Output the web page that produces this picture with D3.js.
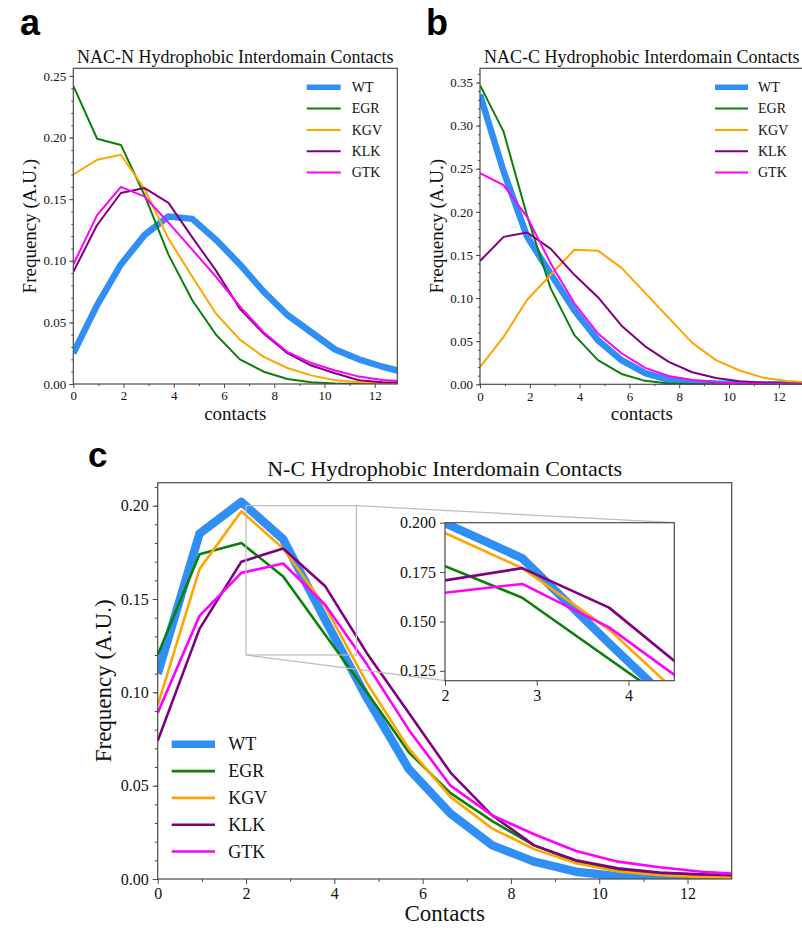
<!DOCTYPE html>
<html>
<head>
<meta charset="utf-8">
<script src="https://cdn.jsdelivr.net/npm/d3@7"></script>
<style>
body { margin: 0; background: #fff; }
svg text { font-family: "Liberation Serif", "Times New Roman", serif; fill: #111; }
svg text.letter { font-family: "Liberation Sans", Arial, sans-serif; font-weight: bold; fill: #000; }
</style>
</head>
<body>
<svg id="chart"></svg>
<script>
// Page size
let width = 802
let height = 928

// Contact bins (x positions of every curve)
let contacts = [0, 0.947, 1.895, 2.842, 3.789, 4.737, 5.684, 6.632, 7.579, 8.526, 9.474, 10.421, 11.368, 12.316, 13.263]

let variants = ['WT', 'EGR', 'KGV', 'KLK', 'GTK']
let colors = ['#2f8ff5', '#0a800a', '#ffa500', '#800080', '#ff00ff']

// a) NAC-N hydrophobic interdomain contacts
let nacN_WT  = [0.025, 0.064, 0.097, 0.121, 0.136, 0.134, 0.117, 0.097, 0.075, 0.056, 0.042, 0.028, 0.020, 0.014, 0.009]
let nacN_EGR = [0.242, 0.199, 0.194, 0.153, 0.105, 0.068, 0.040, 0.020, 0.010, 0.004, 0.0015, 0.0005, 0.0002, 0.0001, 0]
let nacN_KGV = [0.170, 0.182, 0.186, 0.158, 0.118, 0.087, 0.057, 0.036, 0.022, 0.013, 0.007, 0.003, 0.0015, 0.0007, 0.0003]
let nacN_KLK = [0.091, 0.129, 0.155, 0.159, 0.147, 0.119, 0.092, 0.061, 0.041, 0.025, 0.015, 0.0087, 0.003, 0.0015, 0.001]
let nacN_GTK = [0.097, 0.137, 0.160, 0.152, 0.131, 0.109, 0.087, 0.063, 0.042, 0.026, 0.017, 0.011, 0.006, 0.0032, 0.002]

// b) NAC-C hydrophobic interdomain contacts
let nacC_WT  = [0.336, 0.247, 0.171, 0.128, 0.086, 0.051, 0.028, 0.013, 0.005, 0.002, 0.0008, 0.0003, 0.0001, 0, 0]
let nacC_EGR = [0.347, 0.293, 0.195, 0.111, 0.057, 0.028, 0.012, 0.004, 0.001, 0.0003, 0.0001, 0, 0, 0, 0]
let nacC_KGV = [0.020, 0.055, 0.098, 0.127, 0.156, 0.155, 0.135, 0.106, 0.077, 0.048, 0.028, 0.016, 0.0077, 0.0038, 0.002]
let nacC_KLK = [0.143, 0.171, 0.176, 0.157, 0.127, 0.101, 0.068, 0.044, 0.026, 0.014, 0.0073, 0.0035, 0.0017, 0.001, 0.0005]
let nacC_GTK = [0.245, 0.231, 0.194, 0.140, 0.094, 0.059, 0.036, 0.019, 0.0096, 0.005, 0.002, 0.001, 0.0005, 0.0002, 0.0001]

// c) N-C hydrophobic interdomain contacts
let nc_WT  = [0.110, 0.185, 0.202, 0.182, 0.139, 0.097, 0.059, 0.035, 0.018, 0.0093, 0.0039, 0.0015, 0.0005, 0.0002, 0.0001]
let nc_EGR = [0.120, 0.174, 0.180, 0.162, 0.131, 0.100, 0.068, 0.046, 0.031, 0.018, 0.0093, 0.0048, 0.002, 0.001, 0.0005]
let nc_KGV = [0.093, 0.166, 0.197, 0.177, 0.146, 0.105, 0.070, 0.044, 0.027, 0.016, 0.0084, 0.004, 0.002, 0.001, 0.0005]
let nc_KLK = [0.074, 0.134, 0.170, 0.177, 0.157, 0.121, 0.089, 0.057, 0.034, 0.018, 0.010, 0.0057, 0.0034, 0.0025, 0.002]
let nc_GTK = [0.089, 0.141, 0.164, 0.169, 0.147, 0.115, 0.080, 0.050, 0.034, 0.024, 0.015, 0.0093, 0.0063, 0.0039, 0.0025]

// Tick values
let xTicksMain = [0, 2, 4, 6, 8, 10, 12]
let xTicksMinor = [1, 3, 5, 7, 9, 11, 13]
let yTicksA = [0, 0.05, 0.10, 0.15, 0.20, 0.25]
let yTicksB = [0, 0.05, 0.10, 0.15, 0.20, 0.25, 0.30, 0.35]
let yTicksC = [0, 0.05, 0.10, 0.15, 0.20]
let xTicksInset = [2, 3, 4]
let yTicksInset = [0.125, 0.150, 0.175, 0.200]

let svg = d3.select('#chart')
            .attr('width', width)
            .attr('height', height)

let frameColor = '#4a4a4a'
let clipCount = 0

// Draws one set of axes (frame, ticks, curves). Returns the scales.
function drawAxes(p) {
    let xScale = d3.scaleLinear().domain(p.xDomain).range([p.left, p.right])
    let yScale = d3.scaleLinear().domain(p.yDomain).range([p.bottom, p.top])

    let g = svg.append('g')

    if (p.background) {
        g.append('rect')
            .attr('x', p.left).attr('y', p.top)
            .attr('width', p.right - p.left).attr('height', p.bottom - p.top)
            .attr('fill', '#fff')
    }

    let id = 'clip' + (clipCount++)
    g.append('clipPath').attr('id', id)
        .append('rect')
        .attr('x', p.left).attr('y', p.top)
        .attr('width', p.right - p.left).attr('height', p.bottom - p.top)

    // curves
    let line = d3.line()
                .x((d, i) => xScale(contacts[i]))
                .y(d => yScale(d))

    let curves = g.append('g').attr('clip-path', 'url(#' + id + ')')
    p.series.forEach((s, i) => {
        curves.append('path')
            .datum(s)
            .attr('fill', 'none')
            .attr('stroke', colors[i])
            .attr('stroke-width', i == 0 ? p.wtWidth : p.lineWidth)
            .attr('stroke-linejoin', 'round')
            .attr('d', line)
    })

    // frame
    g.append('rect')
        .attr('x', p.left).attr('y', p.top)
        .attr('width', p.right - p.left).attr('height', p.bottom - p.top)
        .attr('fill', 'none')
        .attr('stroke', frameColor)
        .attr('stroke-width', 1.2)

    // axes
    let xAxis = d3.axisBottom(xScale)
                .tickValues(p.xTicks)
                .tickSize(p.tick)
                .tickPadding(p.tickPad)
                .tickFormat(d3.format('d'))
    let xg = g.append('g')
        .attr('transform', 'translate(0,' + p.bottom + ')')
        .call(xAxis)

    let yAxis = d3.axisLeft(yScale)
                .tickValues(p.yTicks)
                .tickSize(p.tick)
                .tickPadding(p.tickPad)
                .tickFormat(d3.format(p.yFormat))
    let yg = g.append('g')
        .attr('transform', 'translate(' + p.left + ',0)')
        .call(yAxis)

    if (p.minor) {
        let xm = g.append('g')
            .attr('transform', 'translate(0,' + p.bottom + ')')
            .call(d3.axisBottom(xScale).tickValues(xTicksMinor.filter(v => v < p.xDomain[1])).tickSize(p.minorTick).tickFormat(''))
        let ym = g.append('g')
            .attr('transform', 'translate(' + p.left + ',0)')
            .call(d3.axisLeft(yScale).tickValues(d3.range(0, p.yDomain[1], 0.01)).tickSize(p.minorTick).tickFormat(''))
        ;[xm, ym].forEach(a => {
            a.select('.domain').remove()
            a.selectAll('line').attr('stroke', frameColor)
        })
    }

    ;[xg, yg].forEach(a => {
        a.select('.domain').remove()
        a.selectAll('line').attr('stroke', frameColor)
        a.selectAll('text')
            .attr('fill', '#111')
            .style('font-family', '"Liberation Serif", "Times New Roman", serif')
            .style('font-size', p.tickFont + 'px')
    })

    return {x: xScale, y: yScale, g: g}
}

// Title, axis labels and legend of a panel
function decorate(p, sc) {
    let cx = (p.left + Math.min(p.right, 804)) / 2
    if (p.title) {
        svg.append('text')
            .attr('x', cx).attr('y', p.top - p.titleGap)
            .attr('text-anchor', 'middle')
            .style('font-size', p.titleFont + 'px')
            .text(p.title)
    }
    svg.append('text')
        .attr('x', cx).attr('y', p.xLabelY)
        .attr('text-anchor', 'middle')
        .style('font-size', p.labelFont + 'px')
        .text(p.xLabel)
    svg.append('text')
        .attr('transform', 'translate(' + p.yLabelX + ',' + ((p.top + p.bottom) / 2) + ') rotate(-90)')
        .attr('text-anchor', 'middle')
        .style('font-size', p.labelFont + 'px')
        .text('Frequency (A.U.)')

    let lg = svg.append('g')
    variants.forEach((v, i) => {
        let y = p.legend.y + i * p.legend.step
        lg.append('line')
            .attr('x1', p.legend.x).attr('x2', p.legend.x + p.legend.len)
            .attr('y1', y).attr('y2', y)
            .attr('stroke', colors[i])
            .attr('stroke-width', i == 0 ? p.wtWidth - 1 : p.lineWidth)
        lg.append('text')
            .attr('x', p.legend.x + p.legend.len + p.legend.gap)
            .attr('y', y + p.legend.font * 0.34)
            .style('font-size', p.legend.font + 'px')
            .text(v)
    })

    svg.append('text')
        .attr('class', 'letter')
        .attr('x', p.letter.x).attr('y', p.letter.y)
        .style('font-size', p.letter.size + 'px')
        .text(p.letter.text)
}

// Panel a
let panelA = {
    left: 73.3, right: 397.3, top: 68.3, bottom: 384,
    xDomain: [0, 12.9], yDomain: [0, 0.2562],
    xTicks: xTicksMain, yTicks: yTicksA, yFormat: '.2f',
    series: [nacN_WT, nacN_EGR, nacN_KGV, nacN_KLK, nacN_GTK],
    wtWidth: 6.5, lineWidth: 2,
    tick: 4, minorTick: 2, tickPad: 3, tickFont: 13, minor: true,
    title: 'NAC-N Hydrophobic Interdomain Contacts', titleFont: 18, titleGap: 5,
    xLabel: 'contacts', xLabelY: 420, yLabelX: 36, labelFont: 19,
    legend: {x: 306.7, len: 34, gap: 11, y: 87.3, step: 21.3, font: 14},
    letter: {text: 'a', x: 20, y: 35, size: 36}
}
let sa = drawAxes(panelA)
decorate(panelA, sa)

// Panel b
let panelB = {
    left: 480, right: 803.7, top: 68.3, bottom: 384.3,
    xDomain: [0, 13], yDomain: [0, 0.3665],
    xTicks: xTicksMain, yTicks: yTicksB, yFormat: '.2f',
    series: [nacC_WT, nacC_EGR, nacC_KGV, nacC_KLK, nacC_GTK],
    wtWidth: 6.5, lineWidth: 2,
    tick: 4, minorTick: 2, tickPad: 3, tickFont: 13, minor: true,
    title: 'NAC-C Hydrophobic Interdomain Contacts', titleFont: 18, titleGap: 5,
    xLabel: 'contacts', xLabelY: 420, yLabelX: 443, labelFont: 19,
    legend: {x: 715, len: 33, gap: 10, y: 87.3, step: 21.3, font: 14},
    letter: {text: 'b', x: 426, y: 35, size: 36}
}
let sb = drawAxes(panelB)
decorate(panelB, sb)

// Panel c
let panelC = {
    left: 157.7, right: 731.7, top: 482.7, bottom: 879,
    xDomain: [0, 13], yDomain: [0, 0.2123],
    xTicks: xTicksMain, yTicks: yTicksC, yFormat: '.2f',
    series: [nc_WT, nc_EGR, nc_KGV, nc_KLK, nc_GTK],
    wtWidth: 8.5, lineWidth: 2.6,
    tick: 5, minorTick: 3, tickPad: 4, tickFont: 16, minor: true,
    title: 'N-C Hydrophobic Interdomain Contacts', titleFont: 22, titleGap: 7,
    xLabel: 'Contacts', xLabelY: 921, yLabelX: 111, labelFont: 23,
    legend: {x: 171.7, len: 43.3, gap: 13.3, y: 744.3, step: 26.8, font: 18},
    letter: {text: 'c', x: 88, y: 467, size: 35}
}
let sc = drawAxes(panelC)

// zoom indicator for the inset
let inset = {
    left: 445, right: 674.3, top: 522.7, bottom: 680.7,
    xDomain: [2, 4.5], yDomain: [0.12, 0.20],
    xTicks: xTicksInset, yTicks: yTicksInset, yFormat: '.3f',
    series: [nc_WT, nc_EGR, nc_KGV, nc_KLK, nc_GTK],
    wtWidth: 8.5, lineWidth: 2.6,
    tick: 5, tickPad: 4, tickFont: 16, minor: false, background: true
}
let zx0 = sc.x(inset.xDomain[0]), zx1 = sc.x(inset.xDomain[1])
let zy0 = sc.y(inset.yDomain[0]), zy1 = sc.y(inset.yDomain[1])
let zoomG = svg.append('g').attr('stroke', '#bdbdbd').attr('stroke-width', 1.2).attr('fill', 'none')
zoomG.append('rect').attr('x', zx0).attr('y', zy1).attr('width', zx1 - zx0).attr('height', zy0 - zy1)
zoomG.append('line').attr('x1', zx1).attr('y1', zy1).attr('x2', inset.right).attr('y2', inset.top)
zoomG.append('line').attr('x1', zx0).attr('y1', zy0).attr('x2', inset.left).attr('y2', inset.bottom)

drawAxes(inset)
decorate(panelC, sc)
</script>
</body>
</html>
